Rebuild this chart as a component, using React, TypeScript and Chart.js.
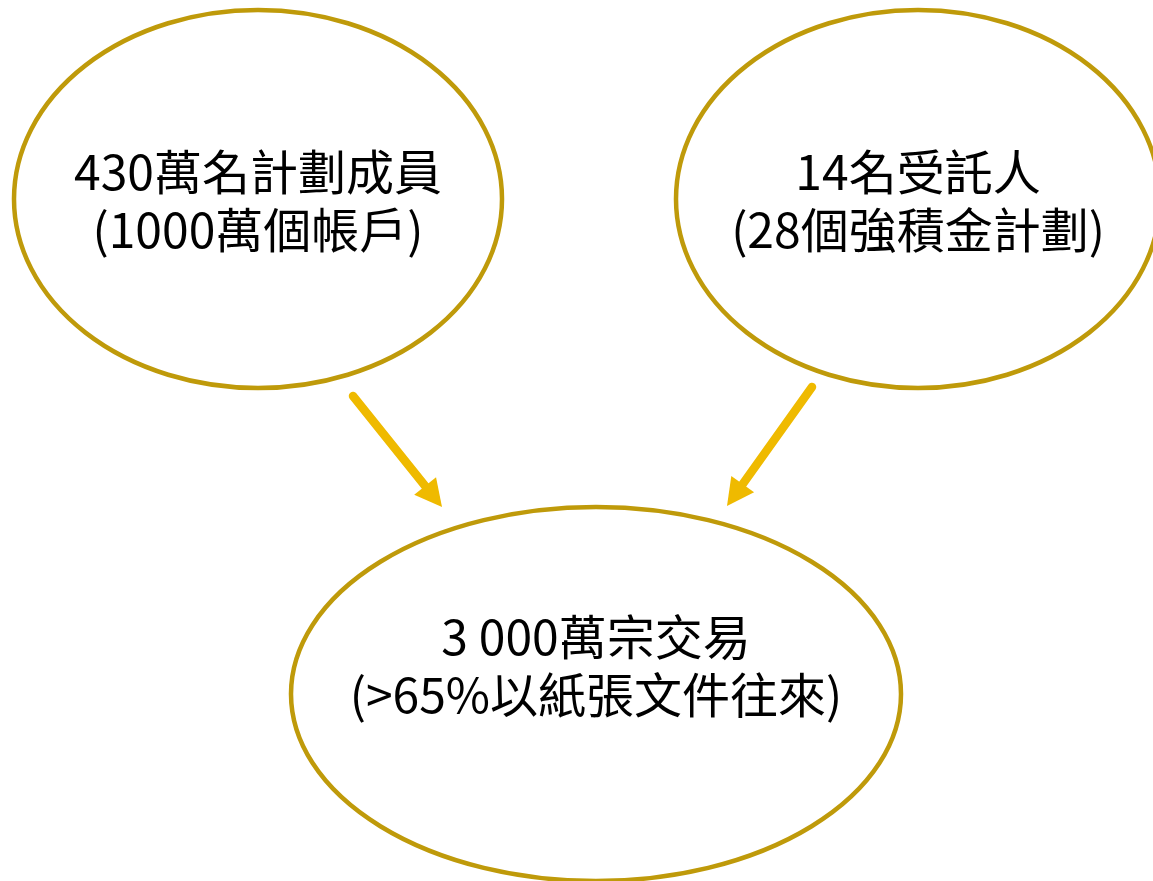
import React, { useEffect, useRef } from "react";
import { Chart, registerables } from "chart.js";

Chart.register(...registerables);

// Nodes (data space: 0..1153 horizontally, 0..881 vertically, top = 0)
const nodeLine1 = ["430萬名計劃成員", "14名受託人", "3 000萬宗交易"];
const nodeLine2 = ["(1000萬個帳戶)", "(28個強積金計劃)", "(>65%以紙張文件往來)"];
const nodeX = [258, 918, 596];
const nodeY = [199, 199, 694];
const nodeRx = [244, 242, 305];
const nodeRy = [189, 189, 187];
const textY = [201, 201, 666];

// Arrows
const arrowFromX = [353, 812];
const arrowFromY = [396, 387];
const arrowToX = [442, 727];
const arrowToY = [507, 506];

const ELLIPSE_COLOR = "#BF9A0A";
const ARROW_COLOR = "#EFBA00";
const FONT = '48px "Noto Sans CJK TC", "Noto Sans", sans-serif';

const diagramPlugin = {
  id: "diagram",
  afterDatasetsDraw(chart: any) {
    const ctx = chart.ctx as CanvasRenderingContext2D;
    const xs = chart.scales.x;
    const ys = chart.scales.y;
    ctx.save();
    // ellipses
    for (let i = 0; i < nodeX.length; i++) {
      const cx = xs.getPixelForValue(nodeX[i]);
      const cy = ys.getPixelForValue(nodeY[i]);
      const rx = Math.abs(xs.getPixelForValue(nodeX[i] + nodeRx[i]) - cx);
      const ry = Math.abs(ys.getPixelForValue(nodeY[i] + nodeRy[i]) - cy);
      ctx.beginPath();
      ctx.ellipse(cx, cy, rx, ry, 0, 0, Math.PI * 2);
      ctx.lineWidth = 4.5;
      ctx.strokeStyle = ELLIPSE_COLOR;
      ctx.stroke();

      ctx.fillStyle = "#000000";
      ctx.font = FONT;
      ctx.textAlign = "center";
      ctx.textBaseline = "middle";
      const ty = ys.getPixelForValue(textY[i]);
      ctx.fillText(nodeLine1[i], cx, ty - 29);
      ctx.fillText(nodeLine2[i], cx, ty + 29);
    }
    // arrows
    for (let i = 0; i < arrowFromX.length; i++) {
      const x1 = xs.getPixelForValue(arrowFromX[i]);
      const y1 = ys.getPixelForValue(arrowFromY[i]);
      const x2 = xs.getPixelForValue(arrowToX[i]);
      const y2 = ys.getPixelForValue(arrowToY[i]);
      const dx = x2 - x1;
      const dy = y2 - y1;
      const len = Math.hypot(dx, dy);
      const ux = dx / len;
      const uy = dy / len;
      const headLen = 27;
      const headHalf = 14;
      const bx = x2 - ux * headLen;
      const by = y2 - uy * headLen;
      ctx.beginPath();
      ctx.moveTo(x1, y1);
      ctx.lineTo(bx + ux * 2, by + uy * 2);
      ctx.lineWidth = 8.5;
      ctx.lineCap = "round";
      ctx.strokeStyle = ARROW_COLOR;
      ctx.stroke();
      ctx.beginPath();
      ctx.moveTo(x2, y2);
      ctx.lineTo(bx - uy * headHalf, by + ux * headHalf);
      ctx.lineTo(bx + uy * headHalf, by - ux * headHalf);
      ctx.closePath();
      ctx.fillStyle = ARROW_COLOR;
      ctx.fill();
    }
    ctx.restore();
  },
};

export default function App() {
  const canvasRef = useRef<HTMLCanvasElement | null>(null);

  useEffect(() => {
    if (!canvasRef.current) return;
    const chart = new Chart(canvasRef.current, {
      type: "scatter",
      data: {
        datasets: [
          {
            label: "nodes",
            data: nodeX.map((x, i) => ({ x, y: nodeY[i] })),
            pointRadius: 0,
            pointHoverRadius: 0,
          },
        ],
      },
      options: {
        animation: false,
        responsive: true,
        maintainAspectRatio: false,
        layout: { padding: 0 },
        plugins: {
          legend: { display: false },
          tooltip: { enabled: false },
        },
        events: [],
        scales: {
          x: { type: "linear", min: 0, max: 1153, display: false },
          y: { type: "linear", min: 0, max: 881, reverse: true, display: false },
        },
      },
      plugins: [diagramPlugin],
    });
    return () => chart.destroy();
  }, []);

  return (
    <div
      style={{
        position: "absolute",
        left: 0,
        top: 0,
        width: 1153,
        height: 881,
        background: "#ffffff",
      }}
    >
      <canvas ref={canvasRef} />
    </div>
  );
}
